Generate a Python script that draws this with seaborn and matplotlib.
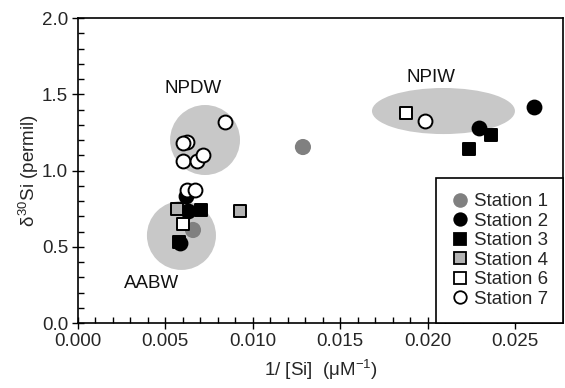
import matplotlib
matplotlib.use("Agg")
import matplotlib.pyplot as plt
from matplotlib.patches import Ellipse
from matplotlib.lines import Line2D
from matplotlib.ticker import MultipleLocator, FormatStrFormatter
import seaborn as sns
import pandas as pd

# ---- data ----
st1_x = [0.01287, 0.00658]
st1_y = [1.154, 0.61]
st2_x = [0.02609, 0.02294, 0.00618, 0.00629, 0.00584]
st2_y = [1.416, 1.279, 0.83, 0.734, 0.525]
st3_x = [0.02363, 0.02237, 0.00704, 0.00578]
st3_y = [1.233, 1.141, 0.741, 0.531]
st4_x = [0.00566, 0.00927]
st4_y = [0.748, 0.734]
st6_x = [0.00600, 0.01876]
st6_y = [0.65, 1.377]
st7_x = [0.00841, 0.00624, 0.00600, 0.00600, 0.00680, 0.00715, 0.00624, 0.00669, 0.01985]
st7_y = [1.318, 1.187, 1.180, 1.062, 1.062, 1.100, 0.872, 0.872, 1.325]

stations = ["Station 1", "Station 2", "Station 3", "Station 4", "Station 6", "Station 7"]
xs = [st1_x, st2_x, st3_x, st4_x, st6_x, st7_x]
ys = [st1_y, st2_y, st3_y, st4_y, st6_y, st7_y]

# water-mass regions
region_names = ["NPDW", "AABW", "NPIW"]
region_cx = [0.00727, 0.00592, 0.02091]
region_cy = [1.20, 0.574, 1.39]
region_w = [0.0040, 0.00395, 0.00818]
region_h = [0.459, 0.452, 0.302]
label_x = [0.00658, 0.00423, 0.0202]
label_y = [1.54, 0.262, 1.607]

# ---- styles ----
markers = ["o", "o", "s", "s", "s", "o"]
faces = ["#808080", "black", "black", "#b3b3b3", "white", "white"]
edges = ["none", "black", "black", "black", "black", "black"]
sizes = [135, 100, 64, 64, 64, 100]
leg_ms = [10.5, 9, 8, 8, 8, 9]
FS = 13.5

sns.set_style("ticks")
plt.rcParams["font.family"] = ["Liberation Sans", "DejaVu Sans"]
plt.rcParams["mathtext.fontset"] = "custom"
plt.rcParams["mathtext.rm"] = "Liberation Sans"
plt.rcParams["mathtext.it"] = "Liberation Sans"
plt.rcParams["font.size"] = FS

fig = plt.figure(figsize=(5.65, 3.88), dpi=100)
ax = fig.add_axes([0.138, 0.1675, 0.9965 - 0.138, 0.9536 - 0.1675])

for cx, cy, w, h in zip(region_cx, region_cy, region_w, region_h):
    ax.add_patch(Ellipse((cx, cy), w, h, facecolor="#c8c8c8", edgecolor="none", zorder=1))
for name, lx, ly in zip(region_names, label_x, label_y):
    ax.text(lx, ly, name, ha="center", va="center", fontsize=FS, color="#111111")

for i, st in enumerate(stations):
    df = pd.DataFrame({"x": xs[i], "y": ys[i]})
    sns.scatterplot(data=df, x="x", y="y", ax=ax, marker=markers[i], s=sizes[i],
                    color=faces[i], edgecolor=edges[i], linewidth=1.4,
                    legend=False, zorder=3 + i)

ax.set_xlim(0, 0.02775)
ax.set_ylim(0, 2.0)
ax.xaxis.set_major_locator(MultipleLocator(0.005))
ax.xaxis.set_minor_locator(MultipleLocator(0.001))
ax.yaxis.set_major_locator(MultipleLocator(0.5))
ax.yaxis.set_minor_locator(MultipleLocator(0.1))
ax.xaxis.set_major_formatter(FormatStrFormatter("%.3f"))
ax.yaxis.set_major_formatter(FormatStrFormatter("%.1f"))
ax.tick_params(which="major", direction="inout", length=8, width=1, labelsize=FS, color="black", pad=3)
ax.tick_params(which="minor", direction="in", length=4, width=1, color="black")
for sp in ax.spines.values():
    sp.set_color("black")
    sp.set_linewidth(1.2)

ax.set_xlabel(r"1/ [Si]  ($\mathrm{\mu}$M$^{-1}$)", fontsize=FS, labelpad=6)
ax.set_ylabel(r"$\delta^{30}$Si (permil)", fontsize=FS, labelpad=1)

handles = [Line2D([], [], linestyle="none", marker=markers[i], markersize=leg_ms[i],
                  markerfacecolor=faces[i], markeredgecolor=edges[i],
                  markeredgewidth=1.3) for i in range(len(stations))]
leg = ax.legend(handles, stations, loc="lower right", bbox_to_anchor=(1.0, 0.0),
                borderaxespad=0, frameon=True, fancybox=False, framealpha=1,
                edgecolor="black", fontsize=FS, handlelength=0.9, handletextpad=0.3,
                labelspacing=0.13, borderpad=0.8)
leg.get_frame().set_linewidth(1.2)

fig.savefig("out.png", dpi=100)
